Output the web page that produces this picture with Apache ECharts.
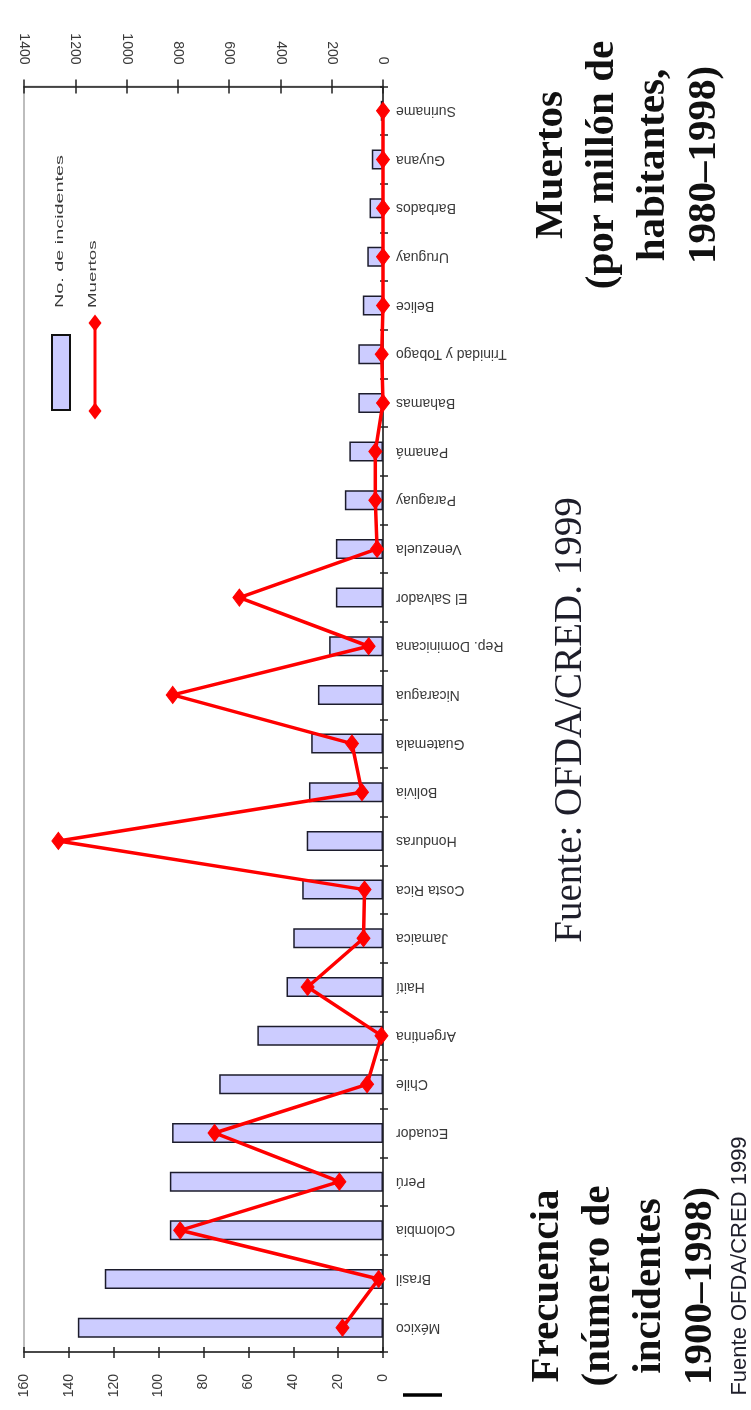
<!DOCTYPE html>
<html>
<head>
<meta charset="utf-8">
<script src="https://cdn.jsdelivr.net/npm/echarts@6/dist/echarts.min.js"></script>
<style>
  html, body { margin: 0; padding: 0; background: #ffffff; }
  #chart { width: 751px; height: 1410px; }
</style>
</head>
<body>
<div id="chart"></div>
<script>
// Countries, listed from the bottom of the category axis to the top
const countries = ['México', 'Brasil', 'Colombia', 'Perú', 'Ecuador', 'Chile', 'Argentina', 'Haití',
  'Jamaica', 'Costa Rica', 'Honduras', 'Bolivia', 'Guatemala', 'Nicaragua', 'Rep. Dominicana',
  'El Salvador', 'Venezuela', 'Paraguay', 'Panamá', 'Bahamas', 'Trinidad y Tobago', 'Belice',
  'Uruguay', 'Barbados', 'Guyana', 'Suriname'];

// Number of incidents, 1900-1998
const incidents = [136, 124, 95, 95, 94, 73, 56, 43, 40, 36, 34, 33, 32, 29, 24, 21, 21, 17, 15, 11, 11, 9, 7, 6, 5, 1];

// Deaths per million inhabitants, 1980-1998
const deaths = [158, 17, 791, 170, 657, 62, 6, 294, 76, 72, 1266, 82, 121, 820, 56, 560, 23, 30, 30, 0, 5, 0, 0, 0, 0, 0];

// Value axis ranges and steps
const incidentAxis = [0, 160, 20];
const deathAxis = [0, 1400, 200];

const legendNames = ['No. de incidentes', 'Muertos'];
const titleIncidents = 'Frecuencia\n(número de\nincidentes\n1900–1998)';
const titleDeaths = 'Muertos\n(por millón de\nhabitantes,\n1980–1998)';
const sourceMain = 'Fuente: OFDA/CRED. 1999';
const sourceSmall = 'Fuente OFDA/CRED 1999';

const AXIS = '#222222';
const LABEL = '#3a3a3a';
const BAR_FILL = '#ccccff';
const RED = '#ff0000';
const SANS = '"Liberation Sans", Arial, sans-serif';
const SERIF = '"Liberation Serif", "Times New Roman", serif';

const chart = echarts.init(document.getElementById('chart'), null, { renderer: 'canvas' });

function valueAxis(range, position, labelled, tickInside, tickLen) {
  return {
    type: 'value',
    position: position,
    inverse: true,
    min: range[0],
    max: range[1],
    interval: range[2],
    splitLine: { show: false },
    axisLine: { show: labelled, lineStyle: { color: AXIS, width: 1.5 } },
    axisTick: { show: true, inside: tickInside, length: tickLen, lineStyle: { color: AXIS, width: 1.5 } },
    axisLabel: {
      show: labelled,
      rotate: 90,
      margin: 22,
      fontFamily: SANS,
      fontSize: 14,
      color: LABEL,
      formatter: v => String(v)
    }
  };
}

function categoryAxis(labelled, tickInside, tickLen) {
  return {
    type: 'category',
    position: 'right',
    data: countries,
    splitLine: { show: false },
    axisLine: { show: labelled, lineStyle: { color: AXIS, width: 1.5 } },
    axisTick: { show: true, inside: tickInside, length: tickLen, lineStyle: { color: AXIS, width: 1.5 } },
    axisLabel: {
      show: labelled,
      interval: 0,
      rotate: 180,
      margin: 13,
      fontFamily: SANS,
      fontSize: 14,
      color: LABEL
    }
  };
}

function vText(x, y, text, font, fill, align, extra) {
  return Object.assign({
    type: 'text',
    x: x,
    y: y,
    rotation: Math.PI / 2,
    z: 100,
    style: {
      text: text,
      font: font,
      fill: fill,
      align: align,
      verticalAlign: 'middle',
      textAlign: align,
      textVerticalAlign: 'middle'
    }
  }, extra || {});
}

function blockText(x, y, text) {
  const font = 'bold 41px ' + SERIF;
  return {
    type: 'text',
    x: x,
    y: y,
    rotation: Math.PI / 2,
    z: 100,
    style: {
      text: text,
      font: font,
      fill: '#111111',
      align: 'center',
      verticalAlign: 'middle',
      textAlign: 'center',
      textVerticalAlign: 'middle',
      lineHeight: 51
    }
  };
}

function diamond(x, y) {
  return {
    type: 'polygon',
    x: x,
    y: y,
    z: 100,
    shape: { points: [[0, -8.5], [6.5, 0], [0, 8.5], [-6.5, 0]] },
    style: { fill: RED }
  };
}

const option = {
  animation: false,
  backgroundColor: '#ffffff',
  grid: {
    left: 24,
    right: 368,
    top: 86.5,
    bottom: 58,
    show: true,
    borderColor: '#a8a8a8',
    borderWidth: 1.5,
    backgroundColor: 'transparent',
    containLabel: false,
    outerBoundsMode: 'none'
  },
  xAxis: [
    valueAxis(incidentAxis, 'bottom', true, false, 6),
    valueAxis(incidentAxis, 'bottom', false, true, 5),
    valueAxis(deathAxis, 'top', true, false, 7),
    valueAxis(deathAxis, 'top', false, true, 7)
  ],
  yAxis: [
    categoryAxis(true, false, 5),
    categoryAxis(false, true, 3)
  ],
  series: [
    {
      name: legendNames[0],
      type: 'bar',
      xAxisIndex: 0,
      yAxisIndex: 0,
      data: incidents,
      barWidth: 20,
      itemStyle: { color: BAR_FILL, borderColor: '#1c1c2c', borderWidth: 1.5 }
    },
    {
      name: legendNames[1],
      type: 'line',
      xAxisIndex: 2,
      yAxisIndex: 0,
      data: deaths,
      symbol: 'diamond',
      symbolSize: [13, 17],
      lineStyle: { color: RED, width: 3.5 },
      itemStyle: { color: RED, borderColor: RED },
      z: 5
    }
  ],
  graphic: {
    elements: [
      // legend
      {
        type: 'rect', z: 100,
        shape: { x: 52, y: 335, width: 18, height: 75 },
        style: { fill: BAR_FILL, stroke: '#111111', lineWidth: 2 }
      },
      vText(60, 308, legendNames[0], '11px ' + SANS, LABEL, 'left', { scaleX: 1.8 }),
      {
        type: 'line', z: 100,
        shape: { x1: 95, y1: 323, x2: 95, y2: 411 },
        style: { stroke: RED, lineWidth: 3 }
      },
      diamond(95, 323),
      diamond(95, 411),
      vText(93, 308, legendNames[1], '11px ' + SANS, LABEL, 'left', { scaleX: 1.7 }),
      // axis titles
      blockText(623.5, 1286, titleIncidents),
      blockText(627.5, 165, titleDeaths),
      // sources
      vText(571, 720, sourceMain, '39px ' + SERIF, '#1e1e2a', 'center'),
      vText(740, 1266, sourceSmall, '22px ' + SANS, '#1e1e2a', 'center'),
      // short rule under the axis
      {
        type: 'line', z: 100,
        shape: { x1: 403, y1: 1395, x2: 442, y2: 1395 },
        style: { stroke: '#000000', lineWidth: 3.5 }
      }
    ]
  }
};

chart.setOption(option);
</script>
</body>
</html>
